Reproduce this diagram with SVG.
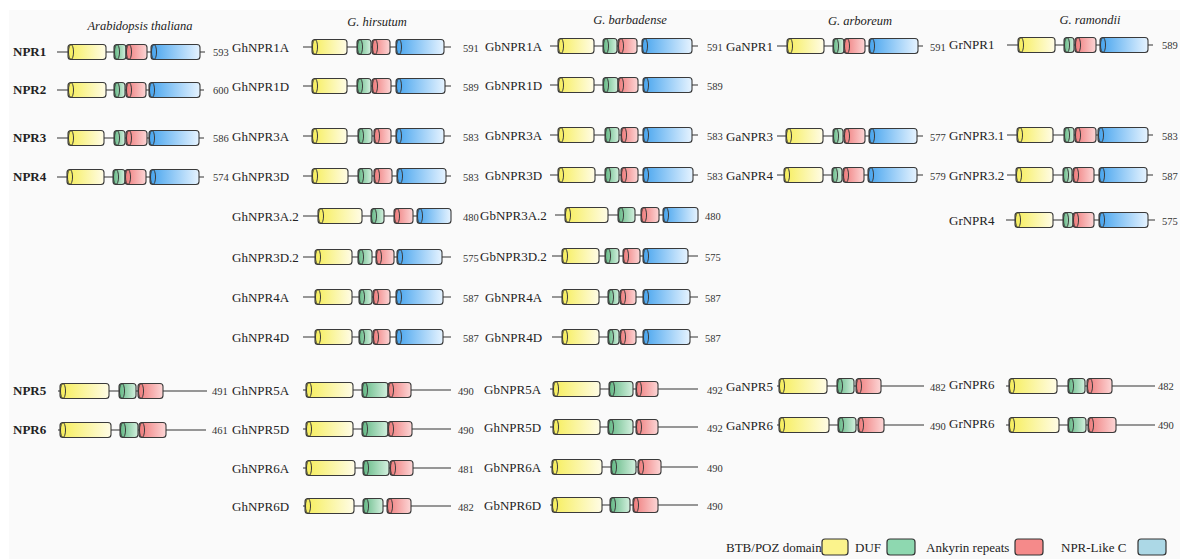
<svg xmlns="http://www.w3.org/2000/svg" width="1180" height="559" viewBox="0 0 1180 559">
<defs>
<linearGradient id="gy" x1="0" y1="0" x2="1" y2="0"><stop offset="0" stop-color="#f6ee5a"/><stop offset="1" stop-color="#fffce6"/></linearGradient>
<linearGradient id="gg" x1="0" y1="0" x2="1" y2="0"><stop offset="0" stop-color="#62b884"/><stop offset="1" stop-color="#d4f0df"/></linearGradient>
<linearGradient id="gr" x1="0" y1="0" x2="1" y2="0"><stop offset="0" stop-color="#ef7a7a"/><stop offset="1" stop-color="#fcd6d6"/></linearGradient>
<linearGradient id="gb" x1="0" y1="0" x2="1" y2="0"><stop offset="0" stop-color="#46a4ee"/><stop offset="1" stop-color="#e6f3ff"/></linearGradient>
</defs>
<style>
.ln{stroke:#333;stroke-width:1.2;fill:none}
.d{stroke:#3a3a3a;stroke-width:1.1}
.e{fill:none;stroke:#3a3a3a;stroke-width:1}
.Y{fill:url(#gy)}.G{fill:url(#gg)}.R{fill:url(#gr)}.B{fill:url(#gb)}
.t{font-family:"Liberation Serif","Times New Roman",serif;font-size:13px;fill:#222}
.n{font-family:"Liberation Serif","Times New Roman",serif;font-size:10.5px;fill:#333}
.bd{font-weight:bold}
.h{font-family:"Liberation Serif","Times New Roman",serif;font-size:12.5px;font-style:italic;fill:#222;text-anchor:middle}
.lg{stroke:#333;stroke-width:1.2}
</style>
<rect x="0" y="0" width="1180" height="559" fill="#ffffff"/>
<rect x="9" y="10" width="1171" height="549" fill="#fafafa"/>

<g id="titles">
<text class="h" x="140" y="30">Arabidopsis thaliana</text>
<text class="h" x="377" y="26">G. hirsutum</text>
<text class="h" x="630" y="24">G. barbadense</text>
<text class="h" x="860" y="25">G. arboreum</text>
<text class="h" x="1090" y="24">G. ramondii</text>
</g>

<g id="connectors">
<!-- backbone lines -->
<line class="ln" x1="57" y1="52" x2="205" y2="52"/>
<line class="ln" x1="57" y1="90" x2="204" y2="90"/>
<line class="ln" x1="57" y1="138" x2="204" y2="138"/>
<line class="ln" x1="57" y1="177" x2="204" y2="177"/>
<line class="ln" x1="58" y1="391" x2="207" y2="391"/>
<line class="ln" x1="58" y1="430" x2="206" y2="430"/>

<line class="ln" x1="303" y1="47" x2="451" y2="47"/>
<line class="ln" x1="303" y1="86" x2="451" y2="86"/>
<line class="ln" x1="303" y1="136" x2="451" y2="136"/>
<line class="ln" x1="303" y1="176" x2="451" y2="176"/>
<line class="ln" x1="303" y1="216" x2="451" y2="216"/>
<line class="ln" x1="303" y1="257" x2="451" y2="257"/>
<line class="ln" x1="303" y1="297" x2="451" y2="297"/>
<line class="ln" x1="303" y1="337" x2="451" y2="337"/>
<line class="ln" x1="303" y1="390" x2="451" y2="390"/>
<line class="ln" x1="303" y1="429" x2="451" y2="429"/>
<line class="ln" x1="303" y1="468" x2="451" y2="468"/>
<line class="ln" x1="303" y1="506" x2="451" y2="506"/>

<line class="ln" x1="550" y1="46" x2="698" y2="46"/>
<line class="ln" x1="550" y1="85" x2="698" y2="85"/>
<line class="ln" x1="550" y1="135" x2="698" y2="135"/>
<line class="ln" x1="550" y1="175" x2="698" y2="175"/>
<line class="ln" x1="555" y1="215" x2="698" y2="215"/>
<line class="ln" x1="552" y1="256" x2="698" y2="256"/>
<line class="ln" x1="552" y1="297" x2="698" y2="297"/>
<line class="ln" x1="552" y1="337" x2="698" y2="337"/>
<line class="ln" x1="550" y1="389" x2="698" y2="389"/>
<line class="ln" x1="550" y1="427" x2="698" y2="427"/>
<line class="ln" x1="550" y1="467" x2="698" y2="467"/>
<line class="ln" x1="550" y1="505" x2="698" y2="505"/>

<line class="ln" x1="777" y1="46" x2="923" y2="46"/>
<line class="ln" x1="777" y1="136" x2="923" y2="136"/>
<line class="ln" x1="777" y1="175" x2="923" y2="175"/>
<line class="ln" x1="777" y1="386" x2="924" y2="386"/>
<line class="ln" x1="777" y1="425" x2="924" y2="425"/>

<line class="ln" x1="1007" y1="45" x2="1153" y2="45"/>
<line class="ln" x1="1007" y1="135" x2="1153" y2="135"/>
<line class="ln" x1="1007" y1="175" x2="1153" y2="175"/>
<line class="ln" x1="1006" y1="220" x2="1155" y2="220"/>
<line class="ln" x1="1006" y1="386" x2="1155" y2="386"/>
<line class="ln" x1="1006" y1="425" x2="1155" y2="425"/>
</g>

<!-- Arabidopsis -->
<g id="NPR1">
<text class="t bd" x="13" y="56">NPR1</text>
<rect class="d Y" x="68" y="44.5" width="38" height="15" rx="3"/><ellipse class="e" cx="71" cy="52" rx="2.5" ry="7.5"/>
<rect class="d G" x="114" y="44.5" width="12" height="15" rx="3"/><ellipse class="e" cx="117" cy="52" rx="2.5" ry="7.5"/>
<rect class="d R" x="126" y="44.5" width="21" height="15" rx="3"/><ellipse class="e" cx="129" cy="52" rx="2.5" ry="7.5"/>
<rect class="d B" x="151" y="44.5" width="49" height="15" rx="3"/><ellipse class="e" cx="154" cy="52" rx="2.5" ry="7.5"/>
<text class="n" x="213" y="56">593</text>
</g>
<g id="NPR2">
<text class="t bd" x="13" y="94">NPR2</text>
<rect class="d Y" x="68" y="82.5" width="38" height="15" rx="3"/><ellipse class="e" cx="71" cy="90" rx="2.5" ry="7.5"/>
<rect class="d G" x="114" y="82.5" width="11" height="15" rx="3"/><ellipse class="e" cx="117" cy="90" rx="2.5" ry="7.5"/>
<rect class="d R" x="126" y="82.5" width="20" height="15" rx="3"/><ellipse class="e" cx="129" cy="90" rx="2.5" ry="7.5"/>
<rect class="d B" x="149" y="82.5" width="51" height="15" rx="3"/><ellipse class="e" cx="152" cy="90" rx="2.5" ry="7.5"/>
<text class="n" x="213" y="94">600</text>
</g>
<g id="NPR3">
<text class="t bd" x="13" y="142">NPR3</text>
<rect class="d Y" x="68" y="130.5" width="36" height="15" rx="3"/><ellipse class="e" cx="71" cy="138" rx="2.5" ry="7.5"/>
<rect class="d G" x="114" y="130.5" width="11" height="15" rx="3"/><ellipse class="e" cx="117" cy="138" rx="2.5" ry="7.5"/>
<rect class="d R" x="126" y="130.5" width="21" height="15" rx="3"/><ellipse class="e" cx="129" cy="138" rx="2.5" ry="7.5"/>
<rect class="d B" x="149" y="130.5" width="50" height="15" rx="3"/><ellipse class="e" cx="152" cy="138" rx="2.5" ry="7.5"/>
<text class="n" x="213" y="142">586</text>
</g>
<g id="NPR4">
<text class="t bd" x="13" y="181">NPR4</text>
<rect class="d Y" x="67" y="169.5" width="37" height="15" rx="3"/><ellipse class="e" cx="70" cy="177" rx="2.5" ry="7.5"/>
<rect class="d G" x="113" y="169.5" width="12" height="15" rx="3"/><ellipse class="e" cx="116" cy="177" rx="2.5" ry="7.5"/>
<rect class="d R" x="125" y="169.5" width="21" height="15" rx="3"/><ellipse class="e" cx="128" cy="177" rx="2.5" ry="7.5"/>
<rect class="d B" x="150" y="169.5" width="49" height="15" rx="3"/><ellipse class="e" cx="153" cy="177" rx="2.5" ry="7.5"/>
<text class="n" x="213" y="181">574</text>
</g>
<g id="NPR5">
<text class="t bd" x="13" y="395">NPR5</text>
<rect class="d Y" x="60" y="383.5" width="49" height="15" rx="3"/><ellipse class="e" cx="63" cy="391" rx="2.5" ry="7.5"/>
<rect class="d G" x="119" y="383.5" width="17" height="15" rx="3"/><ellipse class="e" cx="122" cy="391" rx="2.5" ry="7.5"/>
<rect class="d R" x="138" y="383.5" width="25" height="15" rx="3"/><ellipse class="e" cx="141" cy="391" rx="2.5" ry="7.5"/>
<text class="n" x="212" y="395">491</text>
</g>
<g id="NPR6">
<text class="t bd" x="13" y="434">NPR6</text>
<rect class="d Y" x="60" y="422.5" width="51" height="15" rx="3"/><ellipse class="e" cx="63" cy="430" rx="2.5" ry="7.5"/>
<rect class="d G" x="120" y="422.5" width="18" height="15" rx="3"/><ellipse class="e" cx="123" cy="430" rx="2.5" ry="7.5"/>
<rect class="d R" x="139" y="422.5" width="27" height="15" rx="3"/><ellipse class="e" cx="142" cy="430" rx="2.5" ry="7.5"/>
<text class="n" x="212" y="434">461</text>
</g>

<!-- G. hirsutum -->
<g id="GhNPR1A">
<text class="t" x="232" y="52">GhNPR1A</text>
<rect class="d Y" x="312" y="39.5" width="35" height="15" rx="3"/><ellipse class="e" cx="315" cy="47" rx="2.5" ry="7.5"/>
<rect class="d G" x="357" y="39.5" width="14" height="15" rx="3"/><ellipse class="e" cx="360" cy="47" rx="2.5" ry="7.5"/>
<rect class="d R" x="372" y="39.5" width="18" height="15" rx="3"/><ellipse class="e" cx="375" cy="47" rx="2.5" ry="7.5"/>
<rect class="d B" x="396" y="39.5" width="48" height="15" rx="3"/><ellipse class="e" cx="399" cy="47" rx="2.5" ry="7.5"/>
<text class="n" x="463" y="52">591</text>
</g>
<g id="GhNPR1D">
<text class="t" x="232" y="91">GhNPR1D</text>
<rect class="d Y" x="312" y="78.5" width="35" height="15" rx="3"/><ellipse class="e" cx="315" cy="86" rx="2.5" ry="7.5"/>
<rect class="d G" x="357" y="78.5" width="14" height="15" rx="3"/><ellipse class="e" cx="360" cy="86" rx="2.5" ry="7.5"/>
<rect class="d R" x="372" y="78.5" width="19" height="15" rx="3"/><ellipse class="e" cx="375" cy="86" rx="2.5" ry="7.5"/>
<rect class="d B" x="396" y="78.5" width="49" height="15" rx="3"/><ellipse class="e" cx="399" cy="86" rx="2.5" ry="7.5"/>
<text class="n" x="463" y="91">589</text>
</g>
<g id="GhNPR3A">
<text class="t" x="232" y="141">GhNPR3A</text>
<rect class="d Y" x="312" y="128.5" width="35" height="15" rx="3"/><ellipse class="e" cx="315" cy="136" rx="2.5" ry="7.5"/>
<rect class="d G" x="358" y="128.5" width="14" height="15" rx="3"/><ellipse class="e" cx="361" cy="136" rx="2.5" ry="7.5"/>
<rect class="d R" x="374" y="128.5" width="17" height="15" rx="3"/><ellipse class="e" cx="377" cy="136" rx="2.5" ry="7.5"/>
<rect class="d B" x="396" y="128.5" width="48" height="15" rx="3"/><ellipse class="e" cx="399" cy="136" rx="2.5" ry="7.5"/>
<text class="n" x="463" y="141">583</text>
</g>
<g id="GhNPR3D">
<text class="t" x="232" y="181">GhNPR3D</text>
<rect class="d Y" x="312" y="168.5" width="36" height="15" rx="3"/><ellipse class="e" cx="315" cy="176" rx="2.5" ry="7.5"/>
<rect class="d G" x="358" y="168.5" width="14" height="15" rx="3"/><ellipse class="e" cx="361" cy="176" rx="2.5" ry="7.5"/>
<rect class="d R" x="374" y="168.5" width="18" height="15" rx="3"/><ellipse class="e" cx="377" cy="176" rx="2.5" ry="7.5"/>
<rect class="d B" x="397" y="168.5" width="49" height="15" rx="3"/><ellipse class="e" cx="400" cy="176" rx="2.5" ry="7.5"/>
<text class="n" x="463" y="181">583</text>
</g>
<g id="GhNPR3A.2">
<text class="t" x="232" y="221">GhNPR3A.2</text>
<rect class="d Y" x="318" y="208.5" width="44" height="15" rx="3"/><ellipse class="e" cx="321" cy="216" rx="2.5" ry="7.5"/>
<rect class="d G" x="371" y="208.5" width="13" height="15" rx="3"/><ellipse class="e" cx="374" cy="216" rx="2.5" ry="7.5"/>
<rect class="d R" x="394" y="208.5" width="19" height="15" rx="3"/><ellipse class="e" cx="397" cy="216" rx="2.5" ry="7.5"/>
<rect class="d B" x="417" y="208.5" width="34" height="15" rx="3"/><ellipse class="e" cx="420" cy="216" rx="2.5" ry="7.5"/>
<text class="n" x="463" y="221">480</text>
</g>
<g id="GhNPR3D.2">
<text class="t" x="232" y="262">GhNPR3D.2</text>
<rect class="d Y" x="315" y="249.5" width="37" height="15" rx="3"/><ellipse class="e" cx="318" cy="257" rx="2.5" ry="7.5"/>
<rect class="d G" x="358" y="249.5" width="14" height="15" rx="3"/><ellipse class="e" cx="361" cy="257" rx="2.5" ry="7.5"/>
<rect class="d R" x="376" y="249.5" width="18" height="15" rx="3"/><ellipse class="e" cx="379" cy="257" rx="2.5" ry="7.5"/>
<rect class="d B" x="397" y="249.5" width="45" height="15" rx="3"/><ellipse class="e" cx="400" cy="257" rx="2.5" ry="7.5"/>
<text class="n" x="463" y="262">575</text>
</g>
<g id="GhNPR4A">
<text class="t" x="232" y="302">GhNPR4A</text>
<rect class="d Y" x="315" y="289.5" width="37" height="15" rx="3"/><ellipse class="e" cx="318" cy="297" rx="2.5" ry="7.5"/>
<rect class="d G" x="359" y="289.5" width="13" height="15" rx="3"/><ellipse class="e" cx="362" cy="297" rx="2.5" ry="7.5"/>
<rect class="d R" x="373" y="289.5" width="17" height="15" rx="3"/><ellipse class="e" cx="376" cy="297" rx="2.5" ry="7.5"/>
<rect class="d B" x="396" y="289.5" width="47" height="15" rx="3"/><ellipse class="e" cx="399" cy="297" rx="2.5" ry="7.5"/>
<text class="n" x="463" y="302">587</text>
</g>
<g id="GhNPR4D">
<text class="t" x="232" y="342">GhNPR4D</text>
<rect class="d Y" x="315" y="329.5" width="37" height="15" rx="3"/><ellipse class="e" cx="318" cy="337" rx="2.5" ry="7.5"/>
<rect class="d G" x="359" y="329.5" width="13" height="15" rx="3"/><ellipse class="e" cx="362" cy="337" rx="2.5" ry="7.5"/>
<rect class="d R" x="373" y="329.5" width="17" height="15" rx="3"/><ellipse class="e" cx="376" cy="337" rx="2.5" ry="7.5"/>
<rect class="d B" x="396" y="329.5" width="47" height="15" rx="3"/><ellipse class="e" cx="399" cy="337" rx="2.5" ry="7.5"/>
<text class="n" x="463" y="342">587</text>
</g>
<g id="GhNPR5A">
<text class="t" x="232" y="395">GhNPR5A</text>
<rect class="d Y" x="306" y="382.5" width="47" height="15" rx="3"/><ellipse class="e" cx="309" cy="390" rx="2.5" ry="7.5"/>
<rect class="d G" x="362" y="382.5" width="26" height="15" rx="3"/><ellipse class="e" cx="365" cy="390" rx="2.5" ry="7.5"/>
<rect class="d R" x="388" y="382.5" width="23" height="15" rx="3"/><ellipse class="e" cx="391" cy="390" rx="2.5" ry="7.5"/>
<text class="n" x="458" y="395">490</text>
</g>
<g id="GhNPR5D">
<text class="t" x="232" y="434">GhNPR5D</text>
<rect class="d Y" x="306" y="421.5" width="47" height="15" rx="3"/><ellipse class="e" cx="309" cy="429" rx="2.5" ry="7.5"/>
<rect class="d G" x="362" y="421.5" width="26" height="15" rx="3"/><ellipse class="e" cx="365" cy="429" rx="2.5" ry="7.5"/>
<rect class="d R" x="388" y="421.5" width="24" height="15" rx="3"/><ellipse class="e" cx="391" cy="429" rx="2.5" ry="7.5"/>
<text class="n" x="458" y="434">490</text>
</g>
<g id="GhNPR6A">
<text class="t" x="232" y="473">GhNPR6A</text>
<rect class="d Y" x="306" y="460.5" width="49" height="15" rx="3"/><ellipse class="e" cx="309" cy="468" rx="2.5" ry="7.5"/>
<rect class="d G" x="363" y="460.5" width="26" height="15" rx="3"/><ellipse class="e" cx="366" cy="468" rx="2.5" ry="7.5"/>
<rect class="d R" x="390" y="460.5" width="23" height="15" rx="3"/><ellipse class="e" cx="393" cy="468" rx="2.5" ry="7.5"/>
<text class="n" x="458" y="473">481</text>
</g>
<g id="GhNPR6D">
<text class="t" x="232" y="511">GhNPR6D</text>
<rect class="d Y" x="305" y="498.5" width="49" height="15" rx="3"/><ellipse class="e" cx="308" cy="506" rx="2.5" ry="7.5"/>
<rect class="d G" x="363" y="498.5" width="20" height="15" rx="3"/><ellipse class="e" cx="366" cy="506" rx="2.5" ry="7.5"/>
<rect class="d R" x="387" y="498.5" width="24" height="15" rx="3"/><ellipse class="e" cx="390" cy="506" rx="2.5" ry="7.5"/>
<text class="n" x="458" y="511">482</text>
</g>

<!-- G. barbadense -->
<g id="GbNPR1A">
<text class="t" x="485" y="51">GbNPR1A</text>
<rect class="d Y" x="558" y="38.5" width="36" height="15" rx="3"/><ellipse class="e" cx="561" cy="46" rx="2.5" ry="7.5"/>
<rect class="d G" x="603" y="38.5" width="14" height="15" rx="3"/><ellipse class="e" cx="606" cy="46" rx="2.5" ry="7.5"/>
<rect class="d R" x="618" y="38.5" width="19" height="15" rx="3"/><ellipse class="e" cx="621" cy="46" rx="2.5" ry="7.5"/>
<rect class="d B" x="642" y="38.5" width="50" height="15" rx="3"/><ellipse class="e" cx="645" cy="46" rx="2.5" ry="7.5"/>
<text class="n" x="707" y="51">591</text>
</g>
<g id="GbNPR1D">
<text class="t" x="485" y="90">GbNPR1D</text>
<rect class="d Y" x="558" y="77.5" width="36" height="15" rx="3"/><ellipse class="e" cx="561" cy="85" rx="2.5" ry="7.5"/>
<rect class="d G" x="603" y="77.5" width="15" height="15" rx="3"/><ellipse class="e" cx="606" cy="85" rx="2.5" ry="7.5"/>
<rect class="d R" x="618" y="77.5" width="20" height="15" rx="3"/><ellipse class="e" cx="621" cy="85" rx="2.5" ry="7.5"/>
<rect class="d B" x="643" y="77.5" width="49" height="15" rx="3"/><ellipse class="e" cx="646" cy="85" rx="2.5" ry="7.5"/>
<text class="n" x="707" y="90">589</text>
</g>
<g id="GbNPR3A">
<text class="t" x="485" y="140">GbNPR3A</text>
<rect class="d Y" x="558" y="127.5" width="36" height="15" rx="3"/><ellipse class="e" cx="561" cy="135" rx="2.5" ry="7.5"/>
<rect class="d G" x="605" y="127.5" width="14" height="15" rx="3"/><ellipse class="e" cx="608" cy="135" rx="2.5" ry="7.5"/>
<rect class="d R" x="621" y="127.5" width="17" height="15" rx="3"/><ellipse class="e" cx="624" cy="135" rx="2.5" ry="7.5"/>
<rect class="d B" x="643" y="127.5" width="49" height="15" rx="3"/><ellipse class="e" cx="646" cy="135" rx="2.5" ry="7.5"/>
<text class="n" x="707" y="140">583</text>
</g>
<g id="GbNPR3D">
<text class="t" x="485" y="180">GbNPR3D</text>
<rect class="d Y" x="558" y="167.5" width="37" height="15" rx="3"/><ellipse class="e" cx="561" cy="175" rx="2.5" ry="7.5"/>
<rect class="d G" x="605" y="167.5" width="14" height="15" rx="3"/><ellipse class="e" cx="608" cy="175" rx="2.5" ry="7.5"/>
<rect class="d R" x="621" y="167.5" width="17" height="15" rx="3"/><ellipse class="e" cx="624" cy="175" rx="2.5" ry="7.5"/>
<rect class="d B" x="643" y="167.5" width="50" height="15" rx="3"/><ellipse class="e" cx="646" cy="175" rx="2.5" ry="7.5"/>
<text class="n" x="707" y="180">583</text>
</g>
<g id="GbNPR3A.2">
<text class="t" x="480" y="220">GbNPR3A.2</text>
<rect class="d Y" x="565" y="207.5" width="43" height="15" rx="3"/><ellipse class="e" cx="568" cy="215" rx="2.5" ry="7.5"/>
<rect class="d G" x="618" y="207.5" width="17" height="15" rx="3"/><ellipse class="e" cx="621" cy="215" rx="2.5" ry="7.5"/>
<rect class="d R" x="641" y="207.5" width="18" height="15" rx="3"/><ellipse class="e" cx="644" cy="215" rx="2.5" ry="7.5"/>
<rect class="d B" x="663" y="207.5" width="35" height="15" rx="3"/><ellipse class="e" cx="666" cy="215" rx="2.5" ry="7.5"/>
<text class="n" x="705" y="220">480</text>
</g>
<g id="GbNPR3D.2">
<text class="t" x="480" y="261">GbNPR3D.2</text>
<rect class="d Y" x="562" y="248.5" width="37" height="15" rx="3"/><ellipse class="e" cx="565" cy="256" rx="2.5" ry="7.5"/>
<rect class="d G" x="605" y="248.5" width="14" height="15" rx="3"/><ellipse class="e" cx="608" cy="256" rx="2.5" ry="7.5"/>
<rect class="d R" x="623" y="248.5" width="17" height="15" rx="3"/><ellipse class="e" cx="626" cy="256" rx="2.5" ry="7.5"/>
<rect class="d B" x="643" y="248.5" width="45" height="15" rx="3"/><ellipse class="e" cx="646" cy="256" rx="2.5" ry="7.5"/>
<text class="n" x="705" y="261">575</text>
</g>
<g id="GbNPR4A">
<text class="t" x="485" y="302">GbNPR4A</text>
<rect class="d Y" x="562" y="289.5" width="37" height="15" rx="3"/><ellipse class="e" cx="565" cy="297" rx="2.5" ry="7.5"/>
<rect class="d G" x="608" y="289.5" width="11" height="15" rx="3"/><ellipse class="e" cx="611" cy="297" rx="2.5" ry="7.5"/>
<rect class="d R" x="620" y="289.5" width="16" height="15" rx="3"/><ellipse class="e" cx="623" cy="297" rx="2.5" ry="7.5"/>
<rect class="d B" x="643" y="289.5" width="47" height="15" rx="3"/><ellipse class="e" cx="646" cy="297" rx="2.5" ry="7.5"/>
<text class="n" x="705" y="302">587</text>
</g>
<g id="GbNPR4D">
<text class="t" x="485" y="342">GbNPR4D</text>
<rect class="d Y" x="562" y="329.5" width="37" height="15" rx="3"/><ellipse class="e" cx="565" cy="337" rx="2.5" ry="7.5"/>
<rect class="d G" x="608" y="329.5" width="11" height="15" rx="3"/><ellipse class="e" cx="611" cy="337" rx="2.5" ry="7.5"/>
<rect class="d R" x="620" y="329.5" width="16" height="15" rx="3"/><ellipse class="e" cx="623" cy="337" rx="2.5" ry="7.5"/>
<rect class="d B" x="643" y="329.5" width="47" height="15" rx="3"/><ellipse class="e" cx="646" cy="337" rx="2.5" ry="7.5"/>
<text class="n" x="705" y="342">587</text>
</g>
<g id="GbNPR5A">
<text class="t" x="484" y="394">GbNPR5A</text>
<rect class="d Y" x="553" y="381.5" width="47" height="15" rx="3"/><ellipse class="e" cx="556" cy="389" rx="2.5" ry="7.5"/>
<rect class="d G" x="609" y="381.5" width="24" height="15" rx="3"/><ellipse class="e" cx="612" cy="389" rx="2.5" ry="7.5"/>
<rect class="d R" x="636" y="381.5" width="22" height="15" rx="3"/><ellipse class="e" cx="639" cy="389" rx="2.5" ry="7.5"/>
<text class="n" x="707" y="394">492</text>
</g>
<g id="GbNPR5D">
<text class="t" x="484" y="432">GhNPR5D</text>
<rect class="d Y" x="553" y="419.5" width="47" height="15" rx="3"/><ellipse class="e" cx="556" cy="427" rx="2.5" ry="7.5"/>
<rect class="d G" x="608" y="419.5" width="25" height="15" rx="3"/><ellipse class="e" cx="611" cy="427" rx="2.5" ry="7.5"/>
<rect class="d R" x="636" y="419.5" width="22" height="15" rx="3"/><ellipse class="e" cx="639" cy="427" rx="2.5" ry="7.5"/>
<text class="n" x="707" y="432">492</text>
</g>
<g id="GbNPR6A">
<text class="t" x="484" y="472">GbNPR6A</text>
<rect class="d Y" x="552" y="459.5" width="50" height="15" rx="3"/><ellipse class="e" cx="555" cy="467" rx="2.5" ry="7.5"/>
<rect class="d G" x="611" y="459.5" width="25" height="15" rx="3"/><ellipse class="e" cx="614" cy="467" rx="2.5" ry="7.5"/>
<rect class="d R" x="638" y="459.5" width="23" height="15" rx="3"/><ellipse class="e" cx="641" cy="467" rx="2.5" ry="7.5"/>
<text class="n" x="707" y="472">490</text>
</g>
<g id="GbNPR6D">
<text class="t" x="484" y="510">GbNPR6D</text>
<rect class="d Y" x="552" y="497.5" width="50" height="15" rx="3"/><ellipse class="e" cx="555" cy="505" rx="2.5" ry="7.5"/>
<rect class="d G" x="610" y="497.5" width="20" height="15" rx="3"/><ellipse class="e" cx="613" cy="505" rx="2.5" ry="7.5"/>
<rect class="d R" x="633" y="497.5" width="25" height="15" rx="3"/><ellipse class="e" cx="636" cy="505" rx="2.5" ry="7.5"/>
<text class="n" x="707" y="510">490</text>
</g>

<!-- G. arboreum -->
<g id="GaNPR1">
<text class="t" x="726" y="51">GaNPR1</text>
<rect class="d Y" x="787" y="38.5" width="37" height="15" rx="3"/><ellipse class="e" cx="790" cy="46" rx="2.5" ry="7.5"/>
<rect class="d G" x="833" y="38.5" width="11" height="15" rx="3"/><ellipse class="e" cx="836" cy="46" rx="2.5" ry="7.5"/>
<rect class="d R" x="844" y="38.5" width="21" height="15" rx="3"/><ellipse class="e" cx="847" cy="46" rx="2.5" ry="7.5"/>
<rect class="d B" x="869" y="38.5" width="49" height="15" rx="3"/><ellipse class="e" cx="872" cy="46" rx="2.5" ry="7.5"/>
<text class="n" x="930" y="51">591</text>
</g>
<g id="GaNPR3">
<text class="t" x="726" y="141">GaNPR3</text>
<rect class="d Y" x="786" y="128.5" width="37" height="15" rx="3"/><ellipse class="e" cx="789" cy="136" rx="2.5" ry="7.5"/>
<rect class="d G" x="833" y="128.5" width="10" height="15" rx="3"/><ellipse class="e" cx="836" cy="136" rx="2.5" ry="7.5"/>
<rect class="d R" x="844" y="128.5" width="21" height="15" rx="3"/><ellipse class="e" cx="847" cy="136" rx="2.5" ry="7.5"/>
<rect class="d B" x="869" y="128.5" width="48" height="15" rx="3"/><ellipse class="e" cx="872" cy="136" rx="2.5" ry="7.5"/>
<text class="n" x="930" y="141">577</text>
</g>
<g id="GaNPR4">
<text class="t" x="726" y="180">GaNPR4</text>
<rect class="d Y" x="784" y="167.5" width="39" height="15" rx="3"/><ellipse class="e" cx="787" cy="175" rx="2.5" ry="7.5"/>
<rect class="d G" x="832" y="167.5" width="10" height="15" rx="3"/><ellipse class="e" cx="835" cy="175" rx="2.5" ry="7.5"/>
<rect class="d R" x="843" y="167.5" width="21" height="15" rx="3"/><ellipse class="e" cx="846" cy="175" rx="2.5" ry="7.5"/>
<rect class="d B" x="868" y="167.5" width="49" height="15" rx="3"/><ellipse class="e" cx="871" cy="175" rx="2.5" ry="7.5"/>
<text class="n" x="930" y="180">579</text>
</g>
<g id="GaNPR5">
<text class="t" x="726" y="391">GaNPR5</text>
<rect class="d Y" x="779" y="378.5" width="48" height="15" rx="3"/><ellipse class="e" cx="782" cy="386" rx="2.5" ry="7.5"/>
<rect class="d G" x="837" y="378.5" width="17" height="15" rx="3"/><ellipse class="e" cx="840" cy="386" rx="2.5" ry="7.5"/>
<rect class="d R" x="856" y="378.5" width="25" height="15" rx="3"/><ellipse class="e" cx="859" cy="386" rx="2.5" ry="7.5"/>
<text class="n" x="930" y="391">482</text>
</g>
<g id="GaNPR6">
<text class="t" x="726" y="430">GaNPR6</text>
<rect class="d Y" x="779" y="417.5" width="50" height="15" rx="3"/><ellipse class="e" cx="782" cy="425" rx="2.5" ry="7.5"/>
<rect class="d G" x="838" y="417.5" width="18" height="15" rx="3"/><ellipse class="e" cx="841" cy="425" rx="2.5" ry="7.5"/>
<rect class="d R" x="858" y="417.5" width="26" height="15" rx="3"/><ellipse class="e" cx="861" cy="425" rx="2.5" ry="7.5"/>
<text class="n" x="930" y="430">490</text>
</g>

<!-- G. raimondii -->
<g id="GrNPR1">
<text class="t" x="949" y="49">GrNPR1</text>
<rect class="d Y" x="1018" y="37.5" width="37" height="15" rx="3"/><ellipse class="e" cx="1021" cy="45" rx="2.5" ry="7.5"/>
<rect class="d G" x="1064" y="37.5" width="10" height="15" rx="3"/><ellipse class="e" cx="1067" cy="45" rx="2.5" ry="7.5"/>
<rect class="d R" x="1075" y="37.5" width="21" height="15" rx="3"/><ellipse class="e" cx="1078" cy="45" rx="2.5" ry="7.5"/>
<rect class="d B" x="1100" y="37.5" width="48" height="15" rx="3"/><ellipse class="e" cx="1103" cy="45" rx="2.5" ry="7.5"/>
<text class="n" x="1162" y="49">589</text>
</g>
<g id="GrNPR3.1">
<text class="t" x="949" y="140">GrNPR3.1</text>
<rect class="d Y" x="1017" y="127.5" width="36" height="15" rx="3"/><ellipse class="e" cx="1020" cy="135" rx="2.5" ry="7.5"/>
<rect class="d G" x="1064" y="127.5" width="10" height="15" rx="3"/><ellipse class="e" cx="1067" cy="135" rx="2.5" ry="7.5"/>
<rect class="d R" x="1075" y="127.5" width="21" height="15" rx="3"/><ellipse class="e" cx="1078" cy="135" rx="2.5" ry="7.5"/>
<rect class="d B" x="1098" y="127.5" width="50" height="15" rx="3"/><ellipse class="e" cx="1101" cy="135" rx="2.5" ry="7.5"/>
<text class="n" x="1162" y="140">583</text>
</g>
<g id="GrNPR3.2">
<text class="t" x="949" y="180">GrNPR3.2</text>
<rect class="d Y" x="1016" y="167.5" width="37" height="15" rx="3"/><ellipse class="e" cx="1019" cy="175" rx="2.5" ry="7.5"/>
<rect class="d G" x="1063" y="167.5" width="9" height="15" rx="3"/><ellipse class="e" cx="1066" cy="175" rx="2.5" ry="7.5"/>
<rect class="d R" x="1073" y="167.5" width="21" height="15" rx="3"/><ellipse class="e" cx="1076" cy="175" rx="2.5" ry="7.5"/>
<rect class="d B" x="1099" y="167.5" width="48" height="15" rx="3"/><ellipse class="e" cx="1102" cy="175" rx="2.5" ry="7.5"/>
<text class="n" x="1162" y="180">587</text>
</g>
<g id="GrNPR4">
<text class="t" x="949" y="225">GrNPR4</text>
<rect class="d Y" x="1015" y="212.5" width="38" height="15" rx="3"/><ellipse class="e" cx="1018" cy="220" rx="2.5" ry="7.5"/>
<rect class="d G" x="1063" y="212.5" width="10" height="15" rx="3"/><ellipse class="e" cx="1066" cy="220" rx="2.5" ry="7.5"/>
<rect class="d R" x="1073" y="212.5" width="21" height="15" rx="3"/><ellipse class="e" cx="1076" cy="220" rx="2.5" ry="7.5"/>
<rect class="d B" x="1099" y="212.5" width="49" height="15" rx="3"/><ellipse class="e" cx="1102" cy="220" rx="2.5" ry="7.5"/>
<text class="n" x="1162" y="225">575</text>
</g>
<g id="GrNPR6a">
<text class="t" x="949" y="389">GrNPR6</text>
<rect class="d Y" x="1009" y="378.5" width="48" height="15" rx="3"/><ellipse class="e" cx="1012" cy="386" rx="2.5" ry="7.5"/>
<rect class="d G" x="1068" y="378.5" width="17" height="15" rx="3"/><ellipse class="e" cx="1071" cy="386" rx="2.5" ry="7.5"/>
<rect class="d R" x="1087" y="378.5" width="25" height="15" rx="3"/><ellipse class="e" cx="1090" cy="386" rx="2.5" ry="7.5"/>
<text class="n" x="1158" y="390">482</text>
</g>
<g id="GrNPR6b">
<text class="t" x="949" y="428">GrNPR6</text>
<rect class="d Y" x="1009" y="417.5" width="50" height="15" rx="3"/><ellipse class="e" cx="1012" cy="425" rx="2.5" ry="7.5"/>
<rect class="d G" x="1068" y="417.5" width="18" height="15" rx="3"/><ellipse class="e" cx="1071" cy="425" rx="2.5" ry="7.5"/>
<rect class="d R" x="1088" y="417.5" width="28" height="15" rx="3"/><ellipse class="e" cx="1091" cy="425" rx="2.5" ry="7.5"/>
<text class="n" x="1158" y="429">490</text>
</g>

<g id="legend">
<text class="t" x="726" y="552" font-size="12.5">BTB/POZ domain</text>
<rect class="lg" x="822" y="539" width="26" height="16" rx="3" fill="#fbf38c"/>
<text class="t" x="855" y="552" font-size="12.5">DUF</text>
<rect class="lg" x="887" y="539" width="28" height="16" rx="3" fill="#8ed8b0"/>
<text class="t" x="926" y="552" font-size="12.5">Ankyrin repeats</text>
<rect class="lg" x="1015" y="539" width="28" height="16" rx="3" fill="#f58a8a"/>
<text class="t" x="1061" y="552" font-size="12.5">NPR-Like C</text>
<rect class="lg" x="1138" y="539" width="28" height="16" rx="3" fill="#acd8e6"/>
</g>
</svg>
